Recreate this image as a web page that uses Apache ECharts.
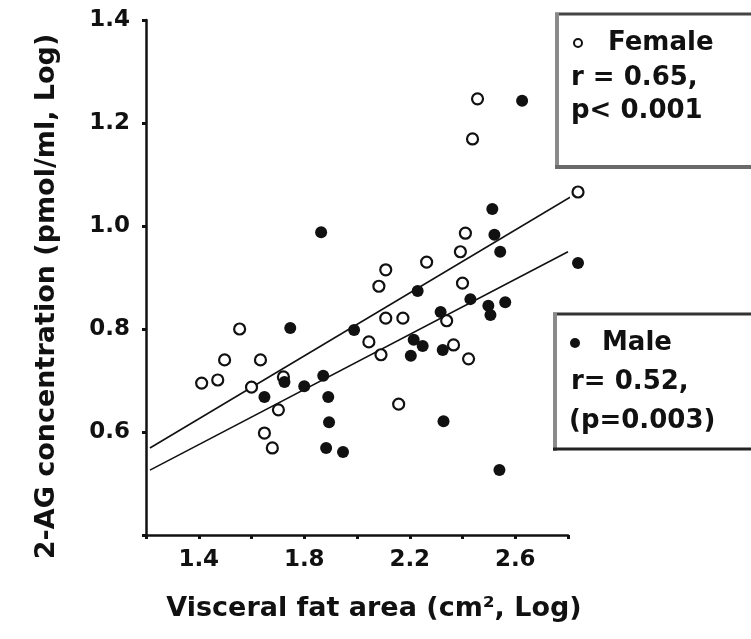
<!DOCTYPE html>
<html>
<head>
<meta charset="utf-8">
<script src="https://cdn.jsdelivr.net/npm/echarts@6/dist/echarts.min.js"></script>
<style>html,body{margin:0;padding:0;background:#fff;}#c{width:751px;height:639px;}</style>
</head>
<body>
<div id="c"></div>
<script>
// ---- data ----
var femaleX = [2.457, 2.438, 2.838, 2.411, 2.392, 2.264, 2.109, 2.083, 2.400, 2.109, 2.174, 2.340, 2.045, 2.091, 2.366, 2.423, 2.158, 1.555, 1.498, 1.634, 1.411, 1.472, 1.600, 1.721, 1.702, 1.649, 1.679];
var femaleY = [1.247, 1.169, 1.066, 0.986, 0.950, 0.930, 0.915, 0.883, 0.889, 0.821, 0.821, 0.816, 0.775, 0.750, 0.769, 0.742, 0.654, 0.800, 0.740, 0.740, 0.695, 0.701, 0.687, 0.707, 0.643, 0.598, 0.569];
var maleX = [2.626, 2.838, 2.513, 2.521, 2.543, 1.864, 2.230, 2.430, 2.562, 2.498, 2.506, 2.317, 1.989, 2.215, 2.249, 2.204, 2.325, 1.747, 1.872, 1.725, 1.800, 1.649, 1.891, 1.894, 2.328, 1.883, 1.947, 2.540];
var maleY = [1.243, 0.928, 1.033, 0.983, 0.950, 0.988, 0.874, 0.858, 0.852, 0.845, 0.827, 0.833, 0.798, 0.779, 0.767, 0.748, 0.759, 0.802, 0.709, 0.697, 0.689, 0.668, 0.668, 0.619, 0.621, 0.569, 0.561, 0.526];
var femaleFitX = [1.215, 2.808];
var femaleFitY = [0.569, 1.056];
var maleFitX = [1.215, 2.800];
var maleFitY = [0.526, 0.950];
var xTickLabels = ['1.4', '1.8', '2.2', '2.6'];
var yTickLabels = ['0.6', '0.8', '1.0', '1.2', '1.4'];
var femaleLegend = ['Female', 'r = 0.65,', 'p< 0.001'];
var maleLegend = ['Male', 'r= 0.52,', '(p=0.003)'];
var xTitle = 'Visceral fat area (cm², Log)';
var yTitle = '2-AG concentration (pmol/ml, Log)';

function zip(a, b) { return a.map(function (v, i) { return [v, b[i]]; }); }

var FONT = 'DejaVu Sans';
var LFONT = 'bold 26px "DejaVu Sans"';
var chart = echarts.init(document.getElementById('c'));
chart.setOption({
  backgroundColor: '#fff',
  animation: false,
  grid: { left: 146, right: 183, top: 20, bottom: 104 },
  xAxis: {
    type: 'value', min: 1.2, max: 2.8, interval: 0.2,
    axisLine: { lineStyle: { color: '#111', width: 2.5 } },
    axisTick: { length: 4, lineStyle: { color: '#111', width: 3 } },
    splitLine: { show: false },
    axisLabel: {
      margin: 14, color: '#111', fontFamily: FONT, fontWeight: 'bold', fontSize: 23,
      formatter: function (v) { var s = v.toFixed(1); return xTickLabels.indexOf(s) >= 0 ? s : ''; }
    },
    name: xTitle, nameLocation: 'middle', nameGap: 60,
    nameTextStyle: { color: '#111', fontFamily: FONT, fontWeight: 'bold', fontSize: 27, padding: [0, 0, 0, 34] }
  },
  yAxis: {
    type: 'value', min: 0.4, max: 1.4, interval: 0.2,
    axisLine: { lineStyle: { color: '#111', width: 2.5 } },
    axisTick: { length: 4, lineStyle: { color: '#111', width: 3 } },
    splitLine: { show: false },
    axisLabel: {
      margin: 16, color: '#111', fontFamily: FONT, fontWeight: 'bold', fontSize: 23,
      formatter: function (v) { var s = v.toFixed(1); return yTickLabels.indexOf(s) >= 0 ? s : ''; }
    },
    name: yTitle, nameLocation: 'middle', nameGap: 86,
    nameTextStyle: { color: '#111', fontFamily: FONT, fontWeight: 'bold', fontSize: 27, padding: [0, 38, 0, 0] }
  },
  series: [
    { type: 'line', data: zip(femaleFitX, femaleFitY), symbol: 'none', clip: false,
      lineStyle: { color: '#111', width: 1.6 }, z: 2 },
    { type: 'line', data: zip(maleFitX, maleFitY), symbol: 'none', clip: false,
      lineStyle: { color: '#111', width: 1.6 }, z: 2 },
    { type: 'scatter', name: 'Female', data: zip(femaleX, femaleY), symbol: 'circle', symbolSize: 11, clip: false,
      itemStyle: { color: '#fff', borderColor: '#111', borderWidth: 2.2, opacity: 1 }, z: 3 },
    { type: 'scatter', name: 'Male', data: zip(maleX, maleY), symbol: 'circle', symbolSize: 12, clip: false,
      itemStyle: { color: '#111', opacity: 1 }, z: 4 }
  ],
  graphic: [
    // Female box
    { type: 'rect', shape: { x: 555, y: 13, width: 210, height: 154 }, style: { fill: '#fff', stroke: null }, z: 10 },
    { type: 'line', shape: { x1: 555, y1: 14, x2: 760, y2: 14 }, style: { stroke: '#444', lineWidth: 3 }, z: 11 },
    { type: 'line', shape: { x1: 557, y1: 13, x2: 557, y2: 168 }, style: { stroke: '#8a8a8a', lineWidth: 4 }, z: 11 },
    { type: 'line', shape: { x1: 555, y1: 167, x2: 760, y2: 167 }, style: { stroke: '#6a6a6a', lineWidth: 4 }, z: 11 },
    { type: 'circle', shape: { cx: 578, cy: 43, r: 4 }, style: { fill: '#fff', stroke: '#111', lineWidth: 2 }, z: 12 },
    { type: 'text', x: 608, y: 43, style: { text: femaleLegend[0], fill: '#111', font: LFONT, textVerticalAlign: 'middle' }, z: 12 },
    { type: 'text', x: 571, y: 78, style: { text: femaleLegend[1], fill: '#111', font: LFONT, textVerticalAlign: 'middle' }, z: 12 },
    { type: 'text', x: 571, y: 111, style: { text: femaleLegend[2], fill: '#111', font: LFONT, textVerticalAlign: 'middle' }, z: 12 },
    // Male box
    { type: 'rect', shape: { x: 553, y: 313, width: 210, height: 137 }, style: { fill: '#fff', stroke: null }, z: 10 },
    { type: 'line', shape: { x1: 553, y1: 314, x2: 760, y2: 314 }, style: { stroke: '#333', lineWidth: 3 }, z: 11 },
    { type: 'line', shape: { x1: 555, y1: 313, x2: 555, y2: 451 }, style: { stroke: '#8a8a8a', lineWidth: 4 }, z: 11 },
    { type: 'line', shape: { x1: 553, y1: 449, x2: 760, y2: 449 }, style: { stroke: '#222', lineWidth: 3 }, z: 11 },
    { type: 'circle', shape: { cx: 575, cy: 343, r: 5 }, style: { fill: '#111' }, z: 12 },
    { type: 'text', x: 602, y: 343, style: { text: maleLegend[0], fill: '#111', font: LFONT, textVerticalAlign: 'middle' }, z: 12 },
    { type: 'text', x: 571, y: 382, style: { text: maleLegend[1], fill: '#111', font: LFONT, textVerticalAlign: 'middle' }, z: 12 },
    { type: 'text', x: 569, y: 421, style: { text: maleLegend[2], fill: '#111', font: LFONT, textVerticalAlign: 'middle' }, z: 12 }
  ]
});
</script>
</body>
</html>
